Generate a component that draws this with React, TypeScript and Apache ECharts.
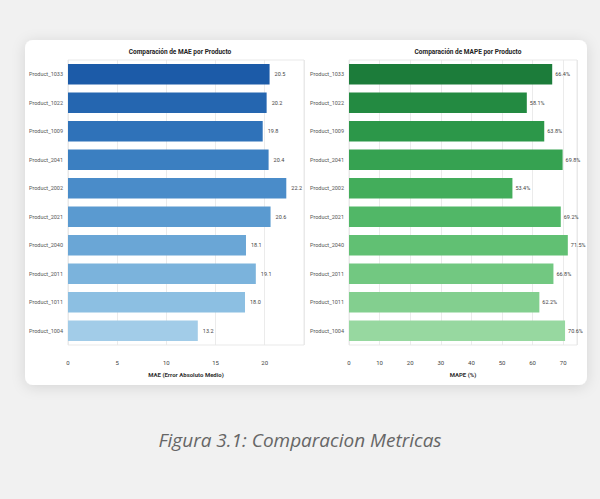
import React, { useEffect, useRef } from "react";
import * as echarts from "echarts";

const products = [
  "Product_1033", "Product_1022", "Product_1009", "Product_2041", "Product_2002",
  "Product_2021", "Product_2040", "Product_2011", "Product_1011", "Product_1004",
];
const maeValues = [20.5, 20.2, 19.8, 20.4, 22.2, 20.6, 18.1, 19.1, 18.0, 13.2];
const mapeValues = [66.4, 58.1, 63.8, 69.8, 53.4, 69.2, 71.5, 66.8, 62.2, 70.6];
const blueColors = ["#1c5ba8", "#2566b0", "#2f72b9", "#3b7fc1", "#4a8cc9", "#5a9ad0", "#6aa6d6", "#7bb3dc", "#8cbfe2", "#a2cce8"];
const greenColors = ["#1c7c3a", "#238a41", "#2c9749", "#36a251", "#43ad5b", "#51b767", "#61c073", "#72c881", "#83cf8f", "#97d8a0"];
const titles = ["Comparación de MAE por Producto", "Comparación de MAPE por Producto"];
const axisNames = ["MAE (Error Absoluto Medio)", "MAPE (%)"];
const caption = "Figura 3.1: Comparacion Metricas";

export default function App() {
  const ref = useRef<HTMLDivElement>(null);
  useEffect(() => {
    const chart = echarts.init(ref.current!, null, { renderer: "svg" });
    const font = "Roboto";
    const mkX = (gi: number, max: number, interval: number, name: string) => ({
      type: "value",
      gridIndex: gi,
      min: 0,
      max,
      interval,
      name,
      nameLocation: "middle",
      nameGap: 26,
      nameTextStyle: { fontSize: 6, fontWeight: "bold", color: "#333", fontFamily: font },
      axisLine: { show: false },
      axisTick: { show: false },
      axisLabel: { fontSize: 6, color: "#444", showMaxLabel: false, margin: 14, fontFamily: font },
      splitLine: { show: true, lineStyle: { color: "#e6e6e6", width: 0.8 } },
    });
    const mkY = (gi: number) => ({
      type: "category",
      gridIndex: gi,
      data: products,
      inverse: true,
      axisLine: { show: false },
      axisTick: { show: false },
      axisLabel: { fontSize: 5.5, color: "#555", margin: 5, fontFamily: font },
      splitLine: { show: false },
    });
    chart.setOption({
      animation: false,
      backgroundColor: "#f1f1f1",
      graphic: [
        {
          type: "rect",
          shape: { x: 25, y: 40, width: 562, height: 345, r: 8 },
          style: { fill: "#ffffff", shadowBlur: 14, shadowColor: "rgba(0,0,0,0.12)", shadowOffsetY: 2 },
          z: -10,
        },
        {
          type: "text",
          x: 300,
          y: 440,
          style: {
            text: caption,
            fontSize: 19,
            fontStyle: "italic",
            fontFamily: "Open Sans",
            fill: "#666",
            align: "center",
            verticalAlign: "middle",
          },
        },
      ],
      title: [
        { text: titles[0], left: 175, top: 43, textAlign: "center", textStyle: { fontSize: 6.5, fontWeight: "bold", color: "#222", fontFamily: font } },
        { text: titles[1], left: 463, top: 43, textAlign: "center", textStyle: { fontSize: 6.5, fontWeight: "bold", color: "#222", fontFamily: font } },
      ],
      grid: [
        { left: 68, right: 296, top: 60, height: 285, show: true, borderColor: "#e3e3e3", borderWidth: 0.8, backgroundColor: "#fff" },
        { left: 349, right: 23, top: 60, height: 285, show: true, borderColor: "#e3e3e3", borderWidth: 0.8, backgroundColor: "#fff" },
      ],
      xAxis: [mkX(0, 24.0, 5, axisNames[0]), mkX(1, 74.5, 10, axisNames[1])],
      yAxis: [mkY(0), mkY(1)],
      series: [
        {
          type: "bar",
          xAxisIndex: 0,
          yAxisIndex: 0,
          barWidth: "72%",
          data: maeValues.map((v, i) => ({ value: v, itemStyle: { color: blueColors[i] } })),
          label: { show: true, position: "right", distance: 5, fontSize: 5.5, color: "#444", fontFamily: font, formatter: (p: any) => p.value.toFixed(1) },
        },
        {
          type: "bar",
          xAxisIndex: 1,
          yAxisIndex: 1,
          barWidth: "72%",
          data: mapeValues.map((v, i) => ({ value: v, itemStyle: { color: greenColors[i] } })),
          label: { show: true, position: "right", distance: 3, fontSize: 5.5, color: "#444", fontFamily: font, formatter: (p: any) => p.value.toFixed(1) + "%" },
        },
      ],
    });
    return () => chart.dispose();
  }, []);
  return <div ref={ref} style={{ position: "fixed", left: 0, top: 0, width: 600, height: 499 }} />;
}
